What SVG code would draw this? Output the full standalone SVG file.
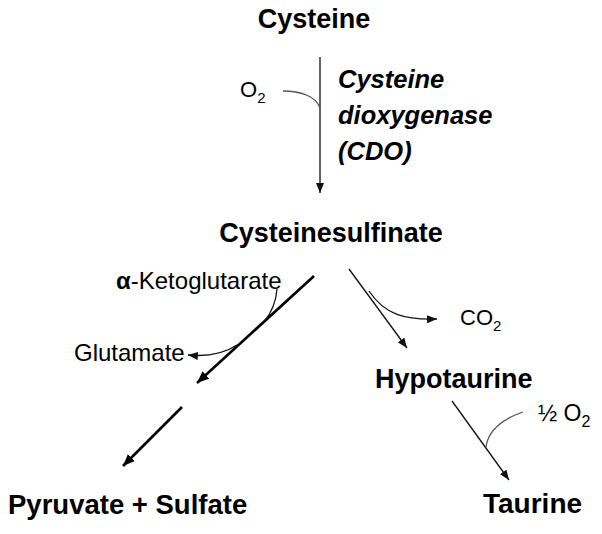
<svg xmlns="http://www.w3.org/2000/svg" width="602" height="534" viewBox="0 0 602 534">
<defs>
<style>
text{font-family:"Liberation Sans",Arial,sans-serif;fill:#000}
.big{font-size:27px;font-weight:bold}
.enz{font-size:25.5px;font-weight:bold;font-style:italic}
.sm{font-size:22px}
.thin{stroke:#111;stroke-width:1.3;fill:none}
.thick{stroke:#000;stroke-width:2.6;fill:none}
.grey{stroke:#555;stroke-width:1.3;fill:none}
</style>
<marker id="ah" markerUnits="userSpaceOnUse" viewBox="0 0 10 8" markerWidth="10" markerHeight="8" refX="10" refY="4" orient="auto"><path d="M0,0 L10,4 L0,8 z" fill="#111"/></marker>
<marker id="ahb" markerUnits="userSpaceOnUse" viewBox="0 0 12 10" markerWidth="12" markerHeight="10" refX="12" refY="5" orient="auto"><path d="M0,0 L12,5 L0,10 z" fill="#000"/></marker>
</defs>
<rect width="602" height="534" fill="#fff"/>
<g id="connectors">
<path class="thin" d="M320,57 L320,193" marker-end="url(#ah)"/>
<path class="grey" d="M283,91 C300,91 316,96 320,108"/>
<path class="thick" d="M314,276 L197,383" marker-end="url(#ahb)"/>
<path class="thick" d="M182,407 L123,466" marker-end="url(#ahb)"/>
<path class="thin" d="M277,289 C276,303 272,312 264,322"/>
<path class="thin" d="M237,345 C225,353 210,357 188,355" marker-end="url(#ah)"/>
<path class="thin" d="M349,269 L407,348" marker-end="url(#ah)"/>
<path class="thin" d="M369,291 C385,315 405,320 437,319" marker-end="url(#ah)"/>
<path class="thin" d="M452,401 L509,480" marker-end="url(#ah)"/>
<path class="grey" d="M523,412 C500,420 488,432 486,447"/>
</g>
<g id="cysteine"><text class="big" x="314" y="28" text-anchor="middle">Cysteine</text></g>
<g id="o2"><text class="sm" x="240" y="97">O<tspan font-size="15" dy="6">2</tspan></text></g>
<g id="cdo"><text class="enz" x="338" y="88">Cysteine</text><text class="enz" x="338" y="124">dioxygenase</text><text class="enz" x="338" y="160">(CDO)</text></g>
<g id="cysteinesulfinate"><text class="big" x="331" y="242" text-anchor="middle">Cysteinesulfinate</text></g>
<g id="ketoglutarate"><text x="116" y="289" font-size="24"><tspan font-weight="bold">α</tspan>-Ketoglutarate</text></g>
<g id="glutamate"><text x="74" y="361" font-size="24">Glutamate</text></g>
<g id="co2"><text x="460" y="325" font-size="22">CO<tspan font-size="15" dy="6">2</tspan></text></g>
<g id="hypotaurine"><text class="big" x="375" y="388">Hypotaurine</text></g>
<g id="half-o2"><text x="538" y="421" font-size="23">½ O<tspan font-size="16" dy="6">2</tspan></text></g>
<g id="pyruvate-sulfate"><text class="big" x="8" y="514" style="font-size:27.5px">Pyruvate + Sulfate</text></g>
<g id="taurine"><text class="big" x="483" y="513" style="font-size:28px">Taurine</text></g>
</svg>
